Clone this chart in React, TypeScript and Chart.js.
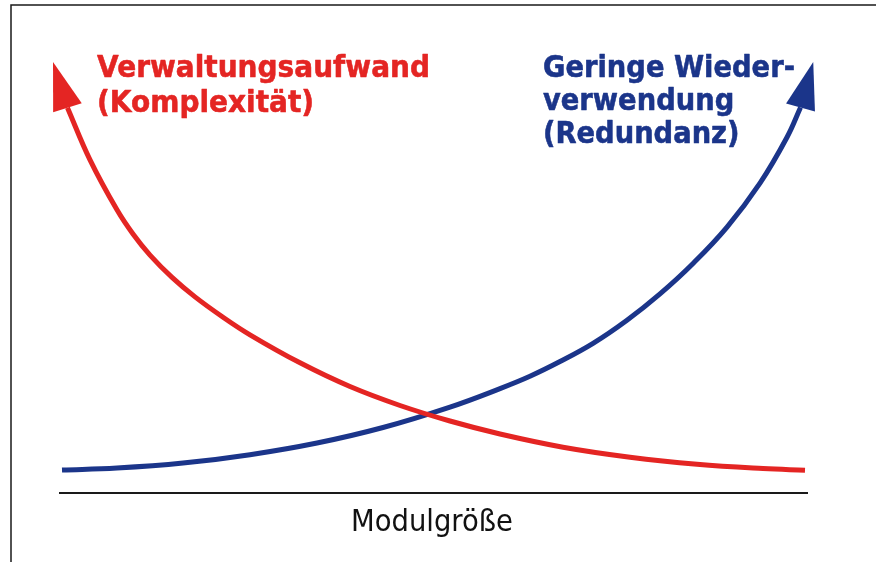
import React, { useEffect, useRef } from "react";
import { Chart, registerables } from "chart.js";

Chart.register(...registerables);

// Red curve: Verwaltungsaufwand (Komplexität) – falls with module size
const redX = [1.13, 4.14, 7.74, 9.88, 12.15, 15.09, 18.16, 21.76, 25.5, 32.18, 38.85, 45.53, 52.2, 58.88, 67.29, 76.24, 85.18, 93.99, 99.6];
const redY = [89.4, 77.3, 65.7, 60.09, 55.2, 50.02, 45.5, 40.95, 36.7, 30.2, 24.7, 20.3, 16.7, 13.69, 10.63, 8.31, 6.68, 5.68, 5.29];
const redTip = [-0.8, 100];

// Blue curve: Geringe Wiederverwendung (Redundanz) – rises with module size
const blueX = [0.4, 7.74, 16.56, 25.5, 34.45, 43.26, 52.2, 58.88, 62.88, 66.89, 71.3, 75.83, 80.24, 84.65, 89.19, 93.59, 97.2, 99.0];
const blueY = [5.34, 5.78, 6.94, 8.89, 11.6, 15.2, 19.93, 24.22, 27.08, 30.49, 34.71, 40.07, 46.19, 53.25, 61.69, 71.88, 82.53, 89.44];
const blueTip = [100.7, 100];

// Baseline (x axis)
const axisX = [0, 100];
const axisY = [0, 0];

const redLabel = ["Verwaltungsaufwand", "(Komplexität)"];
const blueLabel = ["Geringe Wieder-", "verwendung", "(Redundanz)"];
const xAxisLabel = "Modulgröße";

const RED = "#E42523";
const BLUE = "#1B358A";

const pts = (xs: number[], ys: number[]) => xs.map((x, i) => ({ x, y: ys[i] }));

const decorPlugin = {
  id: "decor",
  beforeDraw(chart: any) {
    const ctx = chart.ctx;
    ctx.save();
    ctx.fillStyle = "#fff";
    ctx.fillRect(0, 0, chart.width, chart.height);
    ctx.strokeStyle = "#1a1a1a";
    ctx.lineWidth = 1.5;
    ctx.beginPath();
    ctx.moveTo(11, chart.height);
    ctx.lineTo(11, 5);
    ctx.lineTo(chart.width, 5);
    ctx.stroke();
    ctx.restore();
  },
  afterDatasetsDraw(chart: any) {
    const ctx = chart.ctx;
    const xs = chart.scales.x;
    const ys = chart.scales.y;
    const arrow = (base: number[], tip: number[], color: string) => {
      const bx = xs.getPixelForValue(base[0]);
      const by = ys.getPixelForValue(base[1]);
      const tx = xs.getPixelForValue(tip[0]);
      const ty = ys.getPixelForValue(tip[1]);
      const dx = tx - bx;
      const dy = ty - by;
      const len = Math.hypot(dx, dy);
      const px = -dy / len;
      const py = dx / len;
      const hw = 15;
      ctx.save();
      ctx.fillStyle = color;
      ctx.beginPath();
      ctx.moveTo(tx, ty);
      ctx.lineTo(bx + px * hw, by + py * hw);
      ctx.lineTo(bx - px * hw, by - py * hw);
      ctx.closePath();
      ctx.fill();
      ctx.restore();
    };
    arrow([redX[0], redY[0]], redTip, RED);
    arrow([blueX[blueX.length - 1], blueY[blueY.length - 1]], blueTip, BLUE);

    const block = (lines: string[], x: number, y0: number, lh: number, font: string, color: string, width: number, align: string, stroke: number) => {
      ctx.save();
      ctx.font = font;
      ctx.fillStyle = color;
      ctx.strokeStyle = color;
      ctx.lineJoin = "round";
      ctx.textBaseline = "alphabetic";
      ctx.textAlign = "left";
      const m = ctx.measureText(lines[0]).width;
      const sx = width / m;
      lines.forEach((ln, i) => {
        ctx.save();
        const w = ctx.measureText(ln).width * sx;
        const lx = align === "center" ? x - w / 2 : x;
        ctx.translate(lx, y0 + i * lh);
        ctx.scale(sx, 1);
        ctx.fillText(ln, 0, 0);
        if (stroke > 0) {
          ctx.lineWidth = stroke;
          ctx.strokeText(ln, 0, 0);
        }
        ctx.restore();
      });
      ctx.restore();
    };
    block(redLabel, 97, 77, 34.5, "bold 31px 'DejaVu Sans'", RED, 333, "left", 0.6);
    block(blueLabel, 543, 77, 33, "bold 31px 'DejaVu Sans'", BLUE, 252, "left", 0.6);
    block([xAxisLabel], 432, 531, 30, "31px 'DejaVu Sans'", "#111", 162, "center", 0);
  },
};

export default function App() {
  const ref = useRef<HTMLCanvasElement | null>(null);
  useEffect(() => {
    if (!ref.current) return;
    const chart = new Chart(ref.current, {
      type: "scatter",
      data: {
        datasets: [
          {
            data: pts(axisX, axisY),
            showLine: true,
            borderColor: "#1a1a1a",
            borderWidth: 2,
            pointRadius: 0,
            clip: false as any,
          },
          {
            data: pts(redX, redY),
            showLine: true,
            borderColor: RED,
            borderWidth: 5,
            pointRadius: 0,
            tension: 0.4,
            clip: false as any,
          },
          {
            data: pts(blueX, blueY),
            showLine: true,
            borderColor: BLUE,
            borderWidth: 5,
            pointRadius: 0,
            tension: 0.4,
            clip: false as any,
          },
        ],
      },
      options: {
        animation: false,
        responsive: false,
        layout: { padding: { left: 59, right: 68, top: 62, bottom: 69 } },
        plugins: { legend: { display: false }, tooltip: { enabled: false } },
        scales: {
          x: { type: "linear", min: 0, max: 100, display: false },
          y: { type: "linear", min: 0, max: 100, display: false },
        },
      },
      plugins: [decorPlugin],
    });
    return () => chart.destroy();
  }, []);
  return (
    <div style={{ position: "fixed", left: 0, top: 0, width: 876, height: 562, background: "#fff" }}>
      <canvas ref={ref} width={876} height={562} />
    </div>
  );
}
